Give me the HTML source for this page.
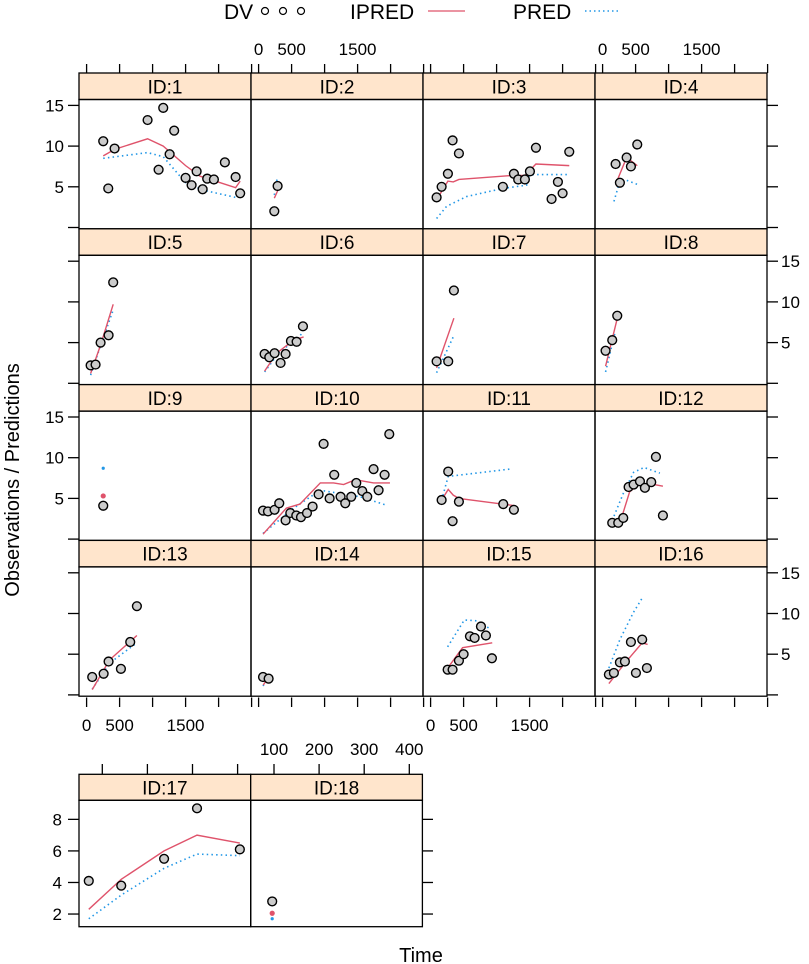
<!DOCTYPE html>
<html><head><meta charset="utf-8"><style>
html,body{margin:0;padding:0;background:#fff;}
svg{display:block;font-family:"Liberation Sans",sans-serif;}
</style></head><body>
<svg id="chart" width="809" height="964" viewBox="0 0 809 964" xmlns="http://www.w3.org/2000/svg">
<g>
  <text x="224" y="19" font-size="21">DV</text>
  <circle cx="265" cy="11" r="3.5" fill="#fff" stroke="#000" stroke-width="1.2"/>
  <circle cx="283" cy="11" r="3.5" fill="#fff" stroke="#000" stroke-width="1.2"/>
  <circle cx="301" cy="11" r="3.5" fill="#fff" stroke="#000" stroke-width="1.2"/>
  <text x="350" y="19" font-size="21">IPRED</text>
  <line x1="428" y1="11" x2="465" y2="11" stroke="#DF536B" stroke-width="1.3"/>
  <text x="513" y="19" font-size="21">PRED</text>
  <line x1="585" y1="11" x2="620" y2="11" stroke="#2297E6" stroke-width="1.5" stroke-dasharray="1.5,3"/>
</g>
<text transform="translate(19,480) rotate(-90)" text-anchor="middle" font-size="20">Observations / Predictions</text>
<text x="421" y="962" text-anchor="middle" font-size="20">Time</text>
<g id="panels"></g>
</svg>
<script>
const ids = [1,2,3,4,5,6,7,8,9,10,11,12,13,14,15,16,17,18];
const dvTime = [
 [252,328,424,924,1091,1161,1258,1327,1500,1591,1667,1758,1827,1929,2095,2258,2327],
 [238,288],
 [91,167,262,333,429,1095,1262,1327,1429,1505,1596,1833,1929,2000,2101],
 [197,262,364,429,525],
 [61,136,212,333,403],
 [91,162,242,333,409,490,576,672],
 [91,267,353],
 [45,146,222],
 [252],
 [67,142,242,313,409,480,571,642,733,818,909,985,1076,1146,1242,1313,1404,1480,1571,1646,1742,1818,1909,1980],
 [167,267,333,429,1101,1262],
 [146,237,313,394,470,566,641,737,808,914],
 [85,258,333,520,661,762],
 [67,152],
 [258,333,429,500,596,667,763,838,929],
 [95,171,262,338,429,505,600,671],
 [70,142,237,310,405],
 [96]
];
const dvConc = [
 [10.6,4.8,9.7,13.2,7.1,14.7,9.0,11.9,6.1,5.2,6.9,4.7,6.0,5.9,8.0,6.2,4.2],
 [2.0,5.1],
 [3.7,5.0,6.6,10.7,9.1,5.0,6.6,5.9,5.9,6.9,9.8,3.5,5.6,4.2,9.3],
 [7.8,5.5,8.6,7.5,10.2],
 [2.2,2.3,5.0,5.9,12.4],
 [3.6,3.2,3.7,2.5,3.6,5.2,5.1,7.0],
 [2.7,2.7,11.4],
 [4.0,5.3,8.3],
 [4.1],
 [3.5,3.4,3.6,4.4,2.3,3.2,2.9,2.7,3.2,4.0,5.5,11.7,5.0,7.9,5.2,4.4,5.2,6.9,5.9,5.2,8.6,6.0,7.9,12.9],
 [4.8,8.3,2.2,4.6,4.3,3.6],
 [2.0,2.0,2.6,6.4,6.7,7.1,6.3,7.0,10.1,2.9],
 [2.2,2.6,4.1,3.2,6.5,10.9],
 [2.2,2.0],
 [3.1,3.1,4.2,5.0,7.2,7.0,8.4,7.3,4.5],
 [2.5,2.7,4.0,4.1,6.5,2.7,6.8,3.3],
 [4.1,3.8,5.5,8.7,6.1],
 [2.8]
];
const ipredTime = [
 [252,424,924,1161,1500,1720,2258,2327],
 [238,288],
 [91,262,343,429,1252,1429,1596,2101],
 [197,364,525],
 [61,212,403],
 [91,273,530,682],
 [91,353],
 [45,217],
 [252],
 [67,420,626,935,1136,1288,1465,1742,1990],
 [167,267,343,429,1278],
 [146,298,409,561,712,914],
 [85,348,762],
 [70,160],
 [258,485,934],
 [95,358,600,682],
 [70,142,237,310,405],
 [96]
];
const ipredConc = [
 [8.8,9.6,10.9,10.0,7.6,6.3,4.9,5.7],
 [3.6,4.5],
 [3.4,5.7,5.6,5.9,6.4,6.4,7.8,7.6],
 [5.3,8.6,7.6],
 [1.2,4.7,9.7],
 [1.5,3.7,5.3,5.7],
 [1.9,8.0],
 [2.1,7.8],
 [5.3],
 [0.6,3.8,4.3,6.9,6.9,6.7,7.3,6.9,6.9],
 [4.8,6.1,5.4,5.0,4.1],
 [1.7,2.9,5.8,6.8,6.8,6.5],
 [0.65,4.3,7.3],
 [1.2,2.3],
 [3.3,5.8,6.4],
 [1.4,4.1,6.4,6.2],
 [2.3,4.2,6.0,7.0,6.5],
 [2.05]
];
const predTime = [
 [252,924,1161,1500,1758,2258,2327],
 [238,283],
 [91,242,545,1095,1455,1505,2101],
 [172,262,364,525],
 [61,227,394],
 [91,320,530,682],
 [91,343],
 [45,190],
 [252],
 [67,530,935,1540,1924],
 [167,267,1202],
 [146,323,470,627,868],
 [85,348,762],
 [67,130],
 [258,510,707,904],
 [95,262,465,615],
 [70,142,237,310,405],
 [96]
];
const predConc = [
 [8.5,9.2,8.7,5.5,4.6,3.7,3.9],
 [4.0,6.1],
 [1.1,2.6,3.8,4.8,5.2,6.5,6.5],
 [3.2,5.7,5.8,5.3],
 [1.0,5.0,8.8],
 [1.4,3.9,5.1,6.3],
 [1.3,5.7],
 [1.4,6.3],
 [8.7],
 [0.7,3.8,6.0,5.2,4.2],
 [4.8,7.7,8.6],
 [2.3,5.8,8.2,8.8,8.1],
 [0.7,3.9,6.4],
 [1.1,1.9],
 [5.9,9.2,9.1,8.1],
 [3.3,6.8,10.1,12.1],
 [1.7,3.2,4.9,5.8,5.7],
 [1.7]
];
const mainXTicks = [0,500,1000,1500,2000,2500];
const mainXLabels = ["0","500","1500"];
const mainYTicks = [0,5,10,15];
const mainYLabels = ["5","10","15"];
const lowXTicks = [100,200,300,400];
const lowYTicks = [2,4,6,8];

const NS = "http://www.w3.org/2000/svg";
const root = document.getElementById("panels");
function mk(tag, attrs, parent){
  const e = document.createElementNS(NS, tag);
  for (const k in attrs) e.setAttribute(k, attrs[k]);
  (parent||root).appendChild(e);
  return e;
}
const RED = "#DF536B", BLUE = "#2297E6";
const TFS = 17;

function drawPanel(i, geo){
  const g = mk("g", {});
  
  
  const strip = mk("rect", {x:geo.left, y:geo.stripTop, width:geo.w, height:geo.stripH, fill:"#FFE5CC", stroke:"#000", "stroke-width":1.3}, g);
  
  
  const st = mk("text", {x:geo.left+geo.w/2, y:geo.stripTop+geo.stripH/2+7, "text-anchor":"middle", "font-size":19}, g);
  st.textContent = "ID:" + ids[i];
  
  
  const pb = mk("rect", {x:geo.left, y:geo.stripTop+geo.stripH, width:geo.w, height:geo.panelH, fill:"none", stroke:"#000", "stroke-width":1.3}, g);
  
  
  const X = geo.x, Y = geo.y;
  if (predTime[i].length > 1){
    const p = mk("polyline", {points: predTime[i].map((t,k)=>X(t)+","+Y(predConc[i][k])).join(" "), fill:"none", stroke:BLUE, "stroke-width":1.6, "stroke-dasharray":"1.5,3.2"}, g);
    
    
  } else {
    const p = mk("circle", {cx:X(predTime[i][0]), cy:Y(predConc[i][0]), r:1.6, fill:BLUE}, g);
    
    
  }
  if (ipredTime[i].length > 1){
    const p = mk("polyline", {points: ipredTime[i].map((t,k)=>X(t)+","+Y(ipredConc[i][k])).join(" "), fill:"none", stroke:RED, "stroke-width":1.4}, g);
    
    
  } else {
    const p = mk("circle", {cx:X(ipredTime[i][0]), cy:Y(ipredConc[i][0]), r:2.6, fill:RED}, g);
    
    
  }
  dvTime[i].forEach((t,k)=>{
    const c = mk("circle", {cx:X(t), cy:Y(dvConc[i][k]), r:4.4, fill:"#cccccc", stroke:"#000", "stroke-width":1.4}, g);
    
    
  });
}

function tick(x1,y1,x2,y2,name){
  const l = mk("line", {x1:x1,y1:y1,x2:x2,y2:y2,stroke:"#000","stroke-width":1.3});
  
  
}
function label(x,y,txt,anchor,name,fs){
  const t = mk("text", {x:x,y:y,"text-anchor":anchor,"font-size":fs||TFS});
  t.textContent = txt;
  
  
}

const colLeft = c => 79 + c*172;
const rowTop = r => 73 + r*155.8;
const SX = 0.066, SY = 8.14;
for (let i=0;i<16;i++){
  const c = i%4, r = Math.floor(i/4);
  const left = colLeft(c), top = rowTop(r);
  const y0 = top + 26.5 + 128;
  drawPanel(i, {left:left, w:172, stripTop:top, stripH:26.5, panelH:129.3,
    x: t => left + 7.6 + t*SX, y: v => y0 - v*SY});
}
for (let c=0;c<4;c++){
  const xs = t => colLeft(c) + 7.6 + t*SX;
  mainXTicks.forEach(t=>{
    tick(xs(t),64,xs(t),73,'x-axis-top-tick');
    tick(xs(t),697.5,xs(t),707,'x-axis-bottom-tick');
  });
  if (c%2===1) [0,500,1500].forEach((t,k)=>label(xs(t),55,mainXLabels[k],"middle",'x-tick-label-top'));
  if (c%2===0) [0,500,1500].forEach((t,k)=>label(xs(t),731,mainXLabels[k],"middle",'x-tick-label-bottom'));
}
for (let r=0;r<4;r++){
  const y0 = rowTop(r) + 26.5 + 128;
  mainYTicks.forEach(v=>{
    tick(68,y0-v*SY,79,y0-v*SY,'y-axis-left-tick');
    tick(767,y0-v*SY,778,y0-v*SY,'y-axis-right-tick');
  });
  if (r%2===0) [5,10,15].forEach((v,k)=>label(64,y0-v*SY+6,mainYLabels[k],"end",'y-tick-label-left'));
  if (r%2===1) [5,10,15].forEach((v,k)=>label(781,y0-v*SY+6,mainYLabels[k],"start",'y-tick-label-right'));
}
const lowY = v => 945.6 - v*15.78;
[16,17].forEach((i,c)=>{
  const left = 79 + c*171.7;
  const x0 = 57.2 + c*171.7;
  drawPanel(i, {left:left, w:171.7, stripTop:774.3, stripH:26, panelH:126.4,
    x: t => x0 + t*0.451, y: lowY});
  lowXTicks.forEach(t=>tick(x0+t*0.451,764,x0+t*0.451,774.3,'x-axis-top-tick'));
  if (c===1) lowXTicks.forEach(t=>label(x0+t*0.451,755,String(t),"middle",'x-tick-label-top'));
});
lowYTicks.forEach(v=>{
  tick(68,lowY(v),79,lowY(v),'y-axis-left-tick');
  label(62,lowY(v)+6,String(v),"end",'y-tick-label-left');
  tick(422.4,lowY(v),433,lowY(v),'y-axis-right-tick');
});
</script>
</body></html>
